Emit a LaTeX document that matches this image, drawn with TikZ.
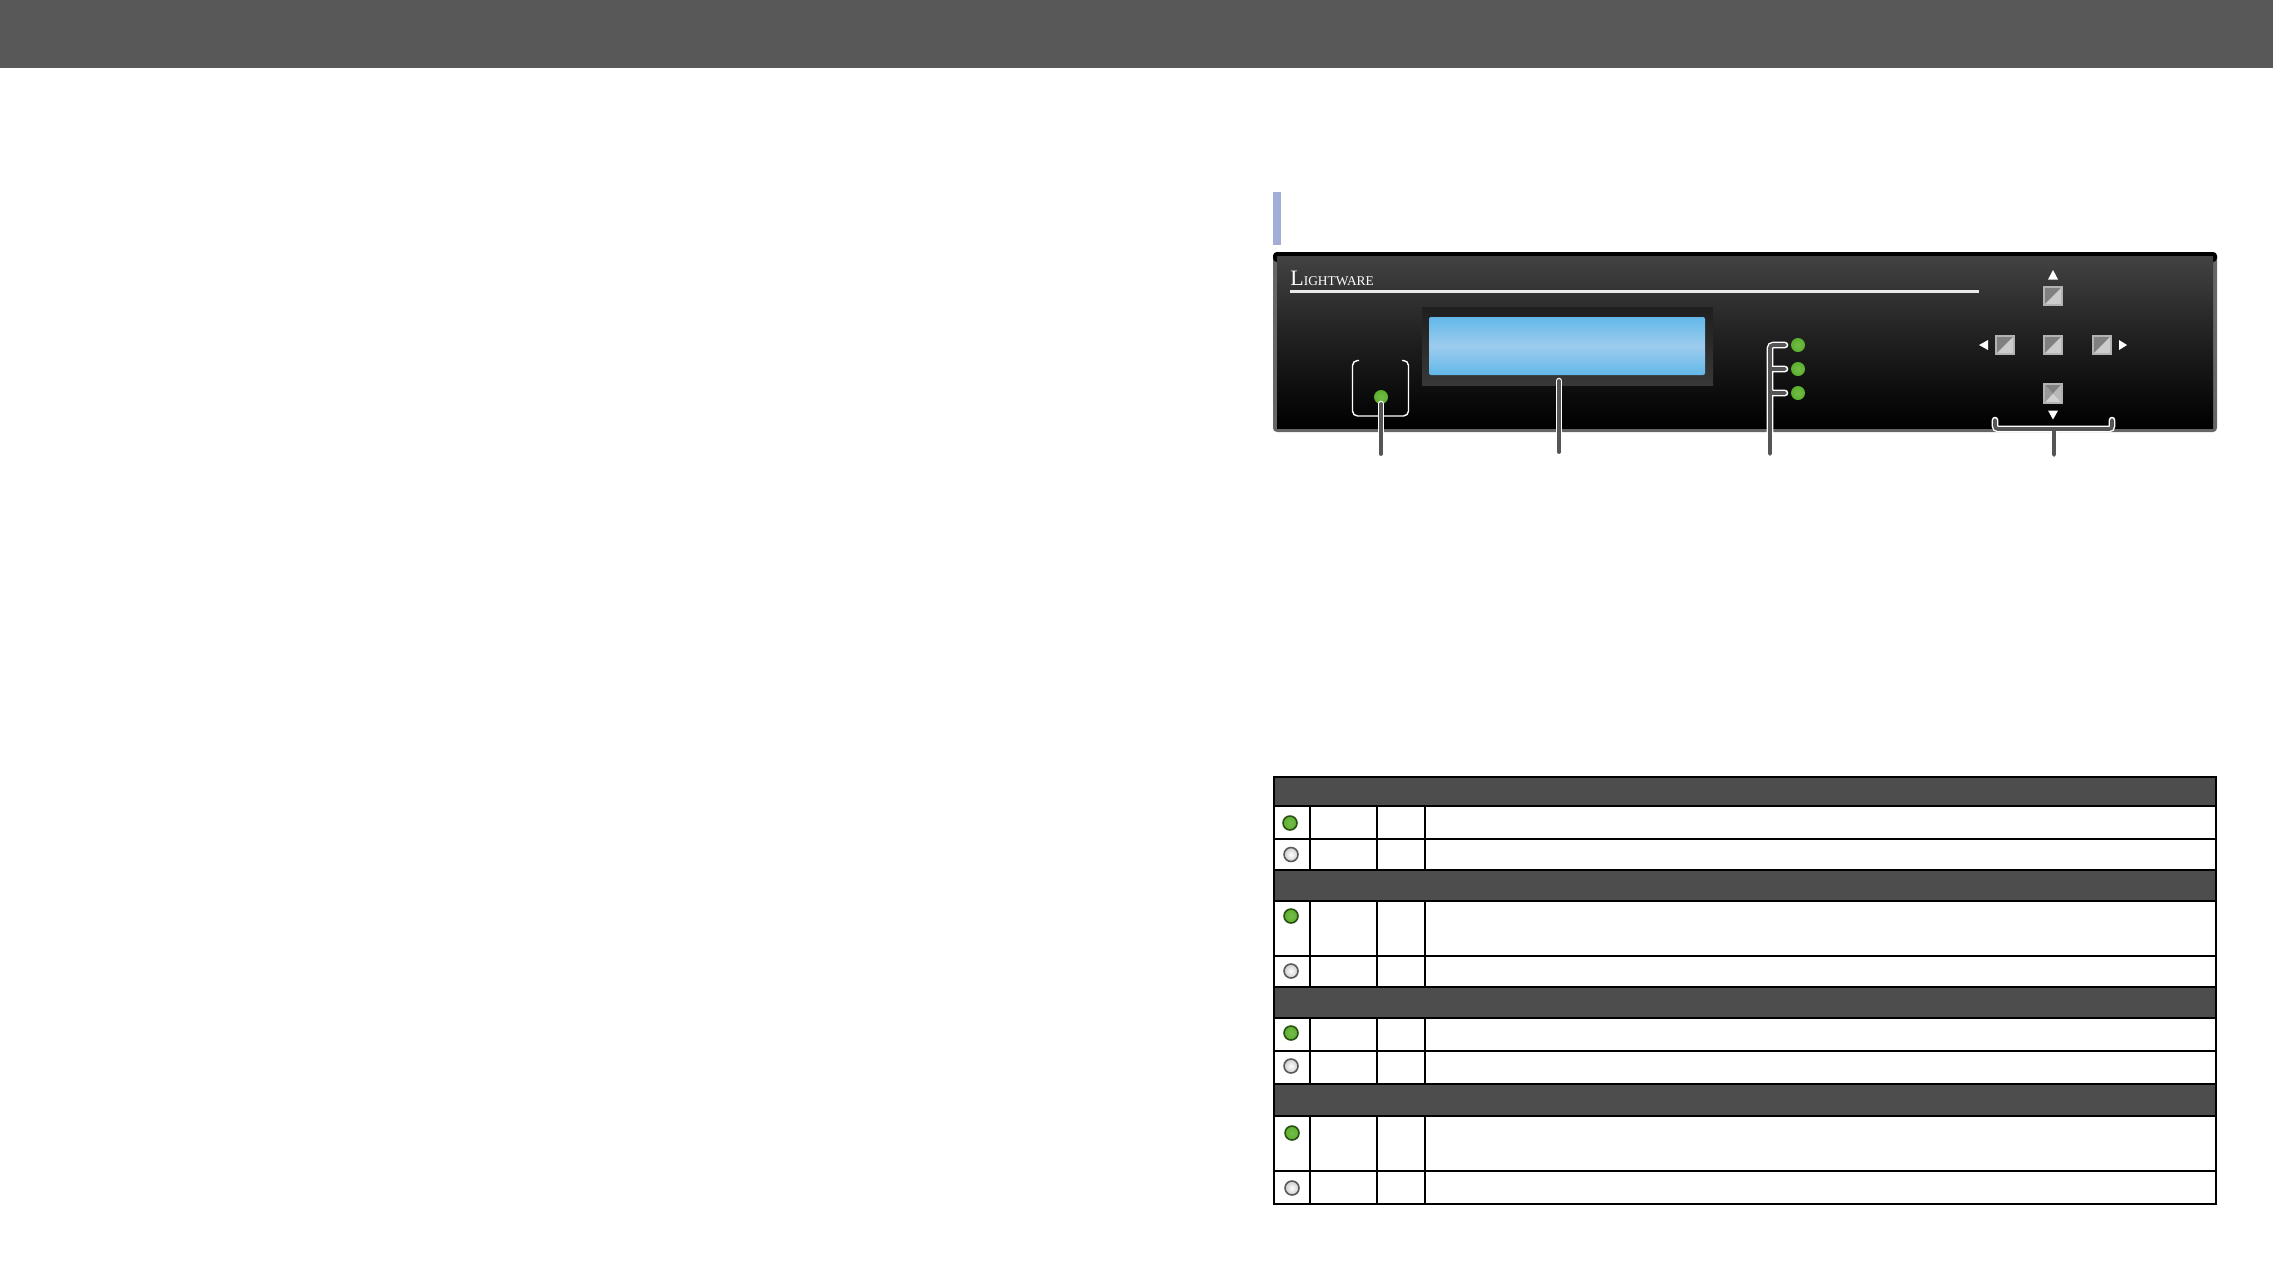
\documentclass[tikz,border=0pt]{standalone}
\usepackage{fontspec}
\usepackage{xcolor}
\setmainfont{Liberation Serif}
\definecolor{headgrey}{HTML}{585858}
\definecolor{bandgrey}{HTML}{4D4D4D}
\definecolor{edgegrey}{HTML}{666666}
\definecolor{leadgrey}{HTML}{555555}
\definecolor{barblue}{HTML}{A3AED6}
\definecolor{lcdblue}{HTML}{62B8E8}
\definecolor{lcdpale}{HTML}{9CCBEE}
\definecolor{ledgreen}{HTML}{5CB02C}
\tikzset{
	panelled/.style={circle, minimum size=7pt, inner sep=0pt, inner color=ledgreen!85!white, outer color=ledgreen},
	tableon/.style={circle, minimum size=7pt, inner sep=0pt, draw=ledgreen!45!black, thick, inner color=ledgreen!85!white, outer color=ledgreen},
	tableoff/.style={circle, minimum size=7pt, inner sep=0pt, draw=black!65, thick, inner color=white, outer color=black!20},
	lead/.style={draw=white, double=leadgrey, double distance=1.9pt, line width=0.7pt, line cap=round, rounded corners=1.5pt},
	arrowmark/.style={fill=white},
	tableline/.style={black, line width=0.55pt},
}

\begin{document}
\begin{tikzpicture}[x=0.5pt, y=-0.5pt]
	\useasboundingbox (0,0) rectangle (2273,1276);
	
	\fill[headgrey] (0,0) rectangle (2273,68);
	\fill[barblue] (1273,192) rectangle (1281,245);
	
	% Panel
	\fill[edgegrey, rounded corners=2pt] (1273,252) -- (2217,252) -- (2217,432) -- (1273,432) -- cycle;
	\fill[black, rounded corners=2pt] (1273,252) rectangle (2217,262);
	\shade[top color=black!74, bottom color=black, middle color=black!88] (1277,256) rectangle (2213,428);
	
	\node[white, anchor=base west, inner sep=0pt] (logo) at (1290,285) {\fontsize{11pt}{11pt}\selectfont L\fontsize{6.7pt}{6.7pt}\selectfont IGHTWARE};
	\fill[white!92!black] (1290,289.5) rectangle (1979,292.5);
	
	\shade[top color=black!88, bottom color=black!78] (1422,307) rectangle (1713,385);
	\shade[top color=lcdblue, bottom color=lcdblue, middle color=lcdpale, rounded corners=1pt] (1429,317) rectangle (1705,375);
	
	\draw[white, line width=0.7pt, rounded corners=2.5pt] (1359,360.5) -- (1352.5,360.5) -- (1352.5,416) -- (1408.5,416) -- (1408.5,360.5) -- (1402,360.5);
	
	\node[panelled] (power) at (1381,397) {};
	\foreach \name/\y in {a/345,b/369,c/393}
	\node[panelled] (led\name) at (1798,\y) {};
	
	% Buttons
	\foreach \name/\x/\y in {up/2053/296,left/2005/345,mid/2053/345,right/2102/345}{
		\fill[black!30] (\x-10,\y-10) rectangle (\x+10,\y+10);
		\fill[black!50] (\x-8,\y+8) -- (\x-8,\y-8) -- (\x+8,\y-8) -- cycle;
		\fill[black!20] (\x-8,\y+8) -- (\x+8,\y+8) -- (\x+8,\y-8) -- cycle;
		\coordinate (btn\name) at (\x,\y);
	}
	\fill[black!30] (2043,383) rectangle (2063,404);
	\fill[black!50] (2045,385) -- (2061,385) -- (2053,393.5) -- cycle;
	\fill[black!18] (2045,402) -- (2061,402) -- (2053,393.5) -- cycle;
	\fill[black!40] (2045,385) -- (2045,402) -- (2053,393.5) -- cycle;
	\fill[black!28] (2061,385) -- (2061,402) -- (2053,393.5) -- cycle;
	
	\fill[arrowmark] (2053,270) -- (2058,279.5) -- (2048,279.5) -- cycle;
	\fill[arrowmark] (2053,419.5) -- (2058,410.5) -- (2048,410.5) -- cycle;
	\fill[arrowmark] (1979,345) -- (1988,340) -- (1988,350) -- cycle;
	\fill[arrowmark] (2127,345) -- (2119,340) -- (2119,350) -- cycle;
	
	% Leads
	\coordinate (powerend) at (1381,454);
	\coordinate (powertop) at (1381,404);
	\coordinate (lcdend) at (1559,452);
	\coordinate (lcdtop) at (1559,381);
	\coordinate (ledend) at (1770,454);
	\coordinate (btnend) at (2054,455);
	
	\draw[lead] (powertop) -- (powerend);
	\draw[lead] (lcdtop) -- (lcdend);
	\draw[lead] (1785,393) -| (1770,369) (1785,369) -- (1770,369) (1785,345) -| (ledend);
	\draw[lead] (1995,420) |- (2112,429) -- (2112,420) (2054,429) -- (btnend);
	
	% Table
	\fill[bandgrey] (1273,776) rectangle (2217,806);
	\fill[bandgrey] (1273,870) rectangle (2217,901);
	\fill[bandgrey] (1273,987) rectangle (2217,1018);
	\fill[bandgrey] (1273,1084) rectangle (2217,1116);
	
	\foreach \top/\bot in {806/870,901/987,1018/1084,1116/1204}
	\foreach \x in {1310,1377,1425}
	\draw[tableline] (\x,\top) -- (\x,\bot);
	
	\foreach \y in {806,839,870,901,956,987,1018,1051,1084,1116,1171}
	\draw[tableline] (1273,\y) -- (2217,\y);
	
	\draw[black, line width=1.2pt] (1274,777) rectangle (2216,1204);
	
	\foreach \name/\x/\y in {oa/1290/823,ob/1291/916,oc/1291/1033,od/1292/1133}
	\node[tableon] (\name) at (\x,\y) {};
	\foreach \name/\x/\y in {xa/1291/854.5,xb/1291/971,xc/1291/1066,xd/1292/1188}
	\node[tableoff] (\name) at (\x,\y) {};
	
\end{tikzpicture}
\end{document}
